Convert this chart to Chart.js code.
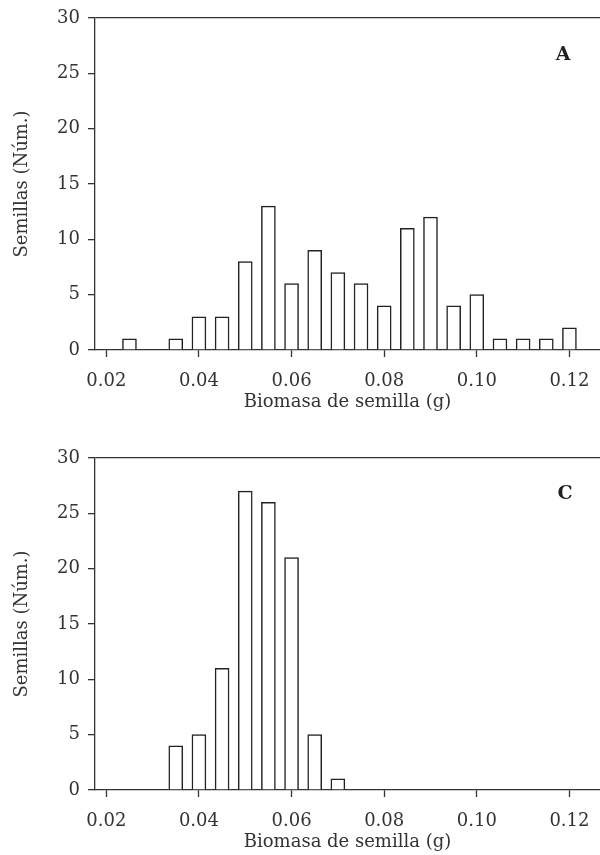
<!DOCTYPE html>
<html>
<head>
<meta charset="utf-8">
<script src="https://cdn.jsdelivr.net/npm/chart.js@4.4.1/dist/chart.umd.min.js"></script>
<style>
  html, body { margin: 0; padding: 0; background: #fff; }
  body { width: 600px; height: 855px; position: relative; overflow: hidden; }
  .panel { position: absolute; left: 0; width: 600px; height: 415px; }
  .tag { position: absolute; font-family: "DejaVu Serif", serif; font-weight: bold; font-size: 19px; color: #222; transform: translate(-50%, -50%); }
</style>
</head>
<body>
<div class="panel" style="top:0px"><canvas id="cA" width="600" height="415"></canvas></div>
<div class="panel" style="top:440px"><canvas id="cC" width="600" height="415"></canvas></div>
<div class="tag" style="left:563px; top:53px;">A</div>
<div class="tag" style="left:565px; top:492px;">C</div>
<script>
// Bin centres (g)
const binsA = [0.025, 0.030, 0.035, 0.040, 0.045, 0.050, 0.055, 0.060, 0.065, 0.070, 0.075, 0.080, 0.085, 0.090, 0.095, 0.100, 0.105, 0.110, 0.115, 0.120];
const countsA = [1, 0, 1, 3, 3, 8, 13, 6, 9, 7, 6, 4, 11, 12, 4, 5, 1, 1, 1, 2];
const binsC = [0.035, 0.040, 0.045, 0.050, 0.055, 0.060, 0.065, 0.070];
const countsC = [4, 5, 11, 27, 26, 21, 5, 1];
const xTicks = [0.02, 0.04, 0.06, 0.08, 0.10, 0.12];
const yTicks = [0, 5, 10, 15, 20, 25, 30];
const xTitle = 'Biomasa de semilla (g)';
const yTitle = 'Semillas (Núm.)';

const FONT = '"DejaVu Serif", serif';
const INK = '#333';

function makeChart(id, bins, counts) {
  const data = bins.map((b, i) => ({ x: b, y: counts[i] }));
  return new Chart(document.getElementById(id), {
    type: 'bar',
    data: {
      datasets: [{
        data: data,
        backgroundColor: '#ffffff',
        borderColor: '#222',
        borderWidth: 1.5,
        barThickness: 14,
        borderSkipped: 'bottom'
      }]
    },
    options: {
      responsive: false,
      animation: false,
      layout: { padding: { top: 18, left: 0, right: 0, bottom: 0 } },
      plugins: { legend: { display: false }, tooltip: { enabled: false } },
      scales: {
        x: {
          type: 'linear',
          min: 0.01756,
          max: 0.1266,
          offset: false,
          afterFit: s => { s.height = 65; s.paddingLeft = 0; s.paddingRight = 0; },
          afterBuildTicks: s => { s.ticks = xTicks.map(v => ({ value: v })); },
          border: { display: true, color: INK, width: 1.3 },
          grid: { display: true, offset: false, drawOnChartArea: false, drawTicks: true, tickLength: 7, tickColor: INK, tickWidth: 1.3 },
          ticks: {
            autoSkip: false, maxRotation: 0, padding: 14,
            color: INK, font: { family: FONT, size: 18 },
            callback: v => Number(v).toFixed(2)
          },
          title: { display: true, text: xTitle, color: INK, font: { family: FONT, size: 18 }, padding: { top: 0, bottom: 2 } }
        },
        y: {
          min: 0, max: 30,
          afterFit: s => { s.width = 95; s.paddingTop = 0; s.paddingBottom = 0; },
          afterBuildTicks: s => { s.ticks = yTicks.map(v => ({ value: v })); },
          border: { display: true, color: INK, width: 1.3 },
          grid: {
            display: true, drawOnChartArea: true, drawTicks: true, tickLength: 7,
            color: c => (c.tick && c.tick.value === 30) ? INK : 'rgba(0,0,0,0)',
            tickColor: INK, lineWidth: 1.3, tickWidth: 1.3
          },
          ticks: { padding: 8, color: INK, font: { family: FONT, size: 18 } },
          title: { display: true, text: yTitle, color: INK, font: { family: FONT, size: 18 }, padding: { top: 12, bottom: 0 } }
        }
      }
    }
  });
}

makeChart('cA', binsA, countsA);
makeChart('cC', binsC, countsC);
</script>
</body>
</html>
